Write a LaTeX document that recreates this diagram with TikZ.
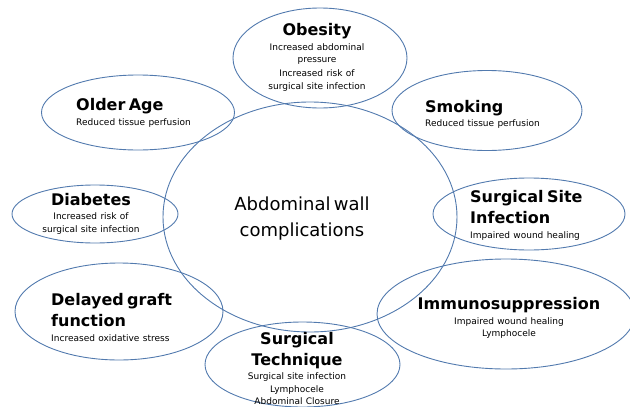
\documentclass[tikz,border=0pt]{standalone}
\usepackage{fontspec}
\setmainfont{DejaVu Sans}
\usepackage{xcolor}
\usepackage{tikz}
\usetikzlibrary{shapes.geometric}

\definecolor{ringblue}{RGB}{82,122,174}
\newcommand{\hd}[1]{{\fontsize{16}{21}\selectfont\bfseries #1\par}\vspace{2pt}}
\newcommand{\sm}{\fontsize{9}{12.5}\selectfont}

\begin{document}
\begin{tikzpicture}[
    x=1pt, y=-1pt,
    bub/.style={draw=ringblue, line width=0.9pt, ellipse, inner sep=0pt},
    lbl/.style={inner sep=0pt, align=center, text width=200pt},
    lbll/.style={inner sep=0pt, align=left, text width=140pt, anchor=west},
    ]
\useasboundingbox (0,0) rectangle (630,407);
\clip (0,0) rectangle (630,407);

% bubbles
\node[bub, minimum width=294pt, minimum height=230pt] (core) at (310,217) {};
\node[bub, minimum width=174pt, minimum height=100pt] (obesity) at (320,58) {};
\node[bub, minimum width=193pt, minimum height=75pt] (olderage) at (138,112.5) {};
\node[bub, minimum width=190pt, minimum height=80pt] (smoking) at (487,110.5) {};
\node[bub, minimum width=166pt, minimum height=58pt] (diabetes) at (95,214) {};
\node[bub, minimum width=192pt, minimum height=72pt] (ssi) at (529,214) {};
\node[bub, minimum width=208pt, minimum height=97pt] (delayed) at (119,311.5) {};
\node[bub, minimum width=258pt, minimum height=110pt] (immuno) at (506,314) {};
\node[bub, minimum width=195pt, minimum height=85pt] (technique) at (302.5,364.5) {};

% texts
\node[lbl] (core-t) at (302,218.5)
  {\fontsize{18}{26.7}\selectfont Abdominal wall\\complications\par};
\node[lbl] (obesity-t) at (317,57.3)
  {\hd{Obesity}\sm Increased abdominal\\pressure\\[1.5pt]Increased risk of\\surgical site infection\par};
\node[lbll] (olderage-t) at (76,113)
  {\hd{Older Age}\sm Reduced tissue perfusion\par};
\node[lbll] (smoking-t) at (425,114.4)
  {\hd{Smoking}\sm Reduced tissue perfusion\par};
\node[lbl] (diabetes-t) at (91,213.7)
  {\hd{Diabetes}\sm Increased risk of\\surgical site infection\par};
\node[lbll] (ssi-t) at (470,215.5)
  {\hd{Surgical Site\\Infection}\sm Impaired wound healing\par};
\node[lbll] (delayed-t) at (51,317.5)
  {\hd{Delayed graft\\function}\sm Increased oxidative stress\par};
\node[lbl] (immuno-t) at (509,318)
  {\hd{Immunosuppression}\sm Impaired wound healing\\Lymphocele\par};
\node[lbl] (technique-t) at (297,368.5)
  {\hd{Surgical\\Technique}\sm Surgical site infection\\Lymphocele\\Abdominal Closure\par};
\end{tikzpicture}
\end{document}
